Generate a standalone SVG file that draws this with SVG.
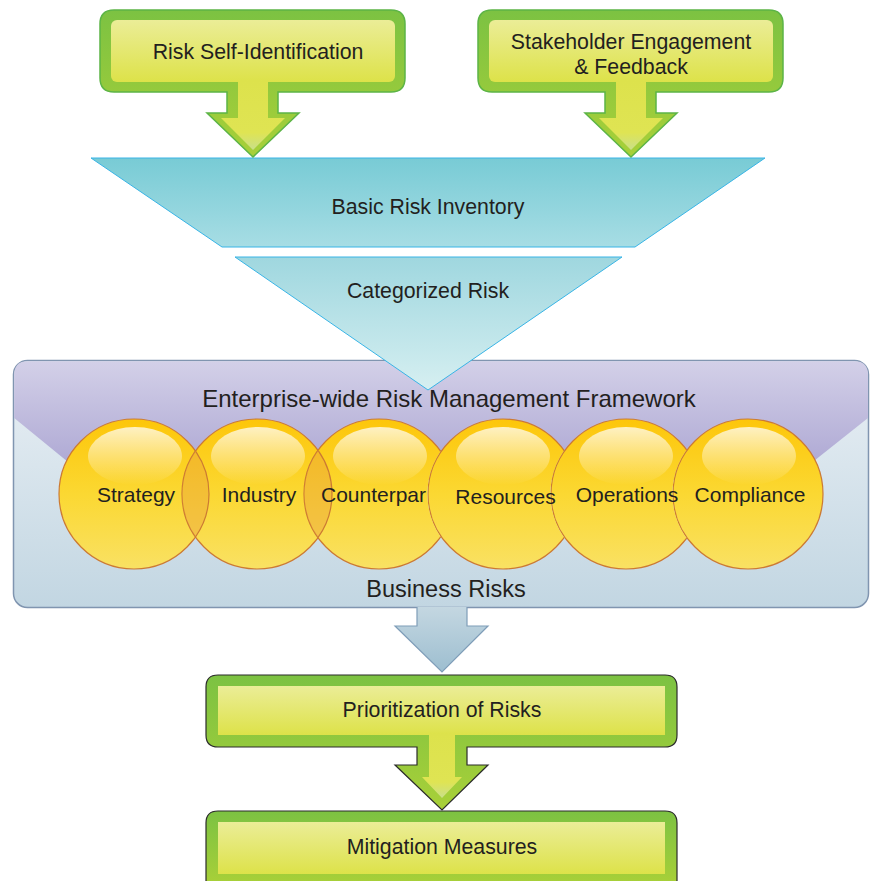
<svg xmlns="http://www.w3.org/2000/svg" width="870" height="881" viewBox="0 0 870 881">
<defs>
<linearGradient id="gOuter" x1="0" y1="0" x2="0" y2="1"><stop offset="0" stop-color="#7cc242"/><stop offset="1" stop-color="#a9d038"/></linearGradient>
<linearGradient id="gInner" x1="0" y1="0" x2="0" y2="1"><stop offset="0" stop-color="#ebed97"/><stop offset="1" stop-color="#dde249"/></linearGradient>
<linearGradient id="gTip" x1="0" y1="0" x2="0" y2="1"><stop offset="0" stop-color="#dde24c"/><stop offset="0.75" stop-color="#dfe453"/><stop offset="1" stop-color="#c9df8a"/></linearGradient>
<linearGradient id="gTrap" x1="0" y1="0" x2="0" y2="1"><stop offset="0" stop-color="#78cbd5"/><stop offset="1" stop-color="#a7dde4"/></linearGradient>
<linearGradient id="gTri" x1="0" y1="0" x2="0" y2="1"><stop offset="0" stop-color="#9fd7df"/><stop offset="1" stop-color="#d6eff1"/></linearGradient>
<linearGradient id="gPanel" x1="0" y1="0" x2="0" y2="1"><stop offset="0" stop-color="#eaf0f5"/><stop offset="1" stop-color="#c2d6e2"/></linearGradient>
<linearGradient id="gPurple" x1="0" y1="0" x2="0" y2="1"><stop offset="0" stop-color="#d3d0e8"/><stop offset="1" stop-color="#a9a3d1"/></linearGradient>
<linearGradient id="gCircle" x1="0" y1="0" x2="0" y2="1"><stop offset="0" stop-color="#fdc60a"/><stop offset="0.5" stop-color="#fbd832"/><stop offset="1" stop-color="#f9e163"/></linearGradient>
<linearGradient id="gHi" x1="0" y1="0" x2="0" y2="1"><stop offset="0" stop-color="#ffffff" stop-opacity="0.75"/><stop offset="1" stop-color="#ffffff" stop-opacity="0"/></linearGradient>
<linearGradient id="gBlue" x1="0" y1="0" x2="0" y2="1"><stop offset="0" stop-color="#c4d7e1"/><stop offset="1" stop-color="#9dbed0"/></linearGradient>
<clipPath id="cutCompliance"><path clip-rule="evenodd" d="M540,400 H760 V590 H540 Z M823.6,494 A75.6,75.6 0 1,0 672.4,494 A75.6,75.6 0 1,0 823.6,494 Z"/></clipPath>
<clipPath id="cutOperations"><path clip-rule="evenodd" d="M420,400 H640 V590 H420 Z M701.6,494 A75.6,75.6 0 1,0 550.4,494 A75.6,75.6 0 1,0 701.6,494 Z"/></clipPath>
<clipPath id="cutResources"><path clip-rule="evenodd" d="M290,400 H520 V590 H290 Z M578.6,494 A75.6,75.6 0 1,0 427.4,494 A75.6,75.6 0 1,0 578.6,494 Z"/></clipPath>
<style>
.t{font-family:"Liberation Sans",Arial,sans-serif;fill:#231f20;text-anchor:middle}
.outer{fill:url(#gOuter);stroke:#5cb446;stroke-width:1.5}
.outerD{fill:url(#gOuter);stroke:#2b2b2b;stroke-width:1.2}
.inner{fill:url(#gInner)}
.circ{fill:url(#gCircle);stroke:#cc7a33;stroke-width:1.2}
.arc{fill:none;stroke:#cc7a33;stroke-width:1.2}
.hi{fill:url(#gHi)}
.lens{fill:#e99a3c;fill-opacity:0.4}
.lbl{font-size:21px}
.box{font-size:21.3px}
</style>
</defs>

<g id="framework">
<rect x="13.5" y="360.5" width="855" height="247" rx="14" fill="url(#gPanel)" stroke="#8095b0" stroke-width="1.5"/>
<path d="M27.5,361.2 H854.5 Q868,361.2 868,375 V418 L790,480 H90 L14.2,418 V375 Q14.2,361.2 27.5,361.2 Z" fill="url(#gPurple)"/>
<text class="t" x="449" y="406.5" font-size="24">Enterprise-wide Risk Management Framework</text>
<text class="t" x="446" y="597" font-size="23.5">Business Risks</text>
</g>

<g id="basic-risk-inventory">
<polygon points="91,158 765,158 635,247 222,247" fill="url(#gTrap)" stroke="#38b4e6" stroke-width="1"/>
<text class="t box" x="428" y="213.5">Basic Risk Inventory</text>
</g>

<g id="categorized-risk">
<polygon points="235,257 622,257 428,390" fill="url(#gTri)" stroke="#38b4e6" stroke-width="1"/>
<text class="t box" x="428" y="297.5">Categorized Risk</text>
</g>

<g id="risk-self-identification">
<path class="outer" d="M114,10 H391 Q405,10 405,24 V78 Q405,92 391,92 H278 V113 H299 L253,157 L207,113 H227 V92 H114 Q100,92 100,78 V24 Q100,10 114,10 Z"/>
<rect class="inner" x="111" y="20" width="284" height="62" rx="6"/>
<path d="M238,80 H268 V118 H285 L253,150 L221,118 H238 Z" fill="url(#gTip)"/>
<text class="t box" x="258" y="58.5">Risk Self-Identification</text>
</g>

<g id="stakeholder-engagement">
<path class="outer" d="M492,10 H769 Q783,10 783,24 V78 Q783,92 769,92 H656 V113 H677 L631,157 L585,113 H605 V92 H492 Q478,92 478,78 V24 Q478,10 492,10 Z"/>
<rect class="inner" x="489" y="20" width="284" height="62" rx="6"/>
<path d="M616,80 H646 V118 H663 L631,150 L599,118 H616 Z" fill="url(#gTip)"/>
<text class="t box" x="631" y="48.5">Stakeholder Engagement</text>
<text class="t box" x="631" y="73.5">&amp; Feedback</text>
</g>

<g id="compliance">
<circle class="circ" cx="748" cy="494" r="75"/>
<ellipse class="hi" cx="749" cy="456" rx="47" ry="29"/>
<text class="t lbl" x="750" y="501.5">Compliance</text>
</g>
<g id="operations">
<g clip-path="url(#cutCompliance)">
<circle class="circ" cx="626" cy="494" r="75"/>
<ellipse class="hi" cx="626" cy="456" rx="47" ry="29"/>
</g>
<text class="t lbl" x="627" y="501.5">Operations</text>
</g>
<g id="resources">
<g clip-path="url(#cutOperations)">
<circle class="circ" cx="503" cy="494" r="75"/>
<ellipse class="hi" cx="503" cy="456" rx="47" ry="29"/>
</g>
<text class="t lbl" x="505.5" y="503.5">Resources</text>
</g>
<g id="strategy">
<circle class="circ" cx="134" cy="494" r="75"/>
<ellipse class="hi" cx="135" cy="456" rx="47" ry="29"/>
<text class="t lbl" x="136" y="501.5">Strategy</text>
</g>
<g id="industry">
<circle class="circ" cx="257" cy="494" r="75"/>
<ellipse class="hi" cx="258" cy="456" rx="47" ry="29"/>
<path class="lens" d="M195.5,451.1 A75,75 0 0,1 195.5,536.9 A75,75 0 0,1 195.5,451.1 Z"/>
<circle class="arc" cx="134" cy="494" r="75" stroke-dasharray="45.7 379.9 45.7 10"/>
<text class="t lbl" x="259" y="501.5">Industry</text>
</g>
<g id="counterparty">
<g clip-path="url(#cutResources)">
<circle class="circ" cx="379" cy="494" r="75"/>
<ellipse class="hi" cx="380" cy="456" rx="47" ry="29"/>
</g>
<path class="lens" d="M318,450.4 A75,75 0 0,1 318,537.6 A75,75 0 0,1 318,450.4 Z"/>
<circle class="arc" cx="257" cy="494" r="75" stroke-dasharray="46.6 378.1 46.6 10"/>
<text class="t lbl" x="373.5" y="501.5">Counterpar</text>
</g>

<g id="connectors">
<path d="M417,607 V626 H395 L442,672 L488,626 H467 V607" fill="url(#gBlue)" stroke="#7f9db8" stroke-width="1.2"/>
</g>

<g id="prioritization">
<path class="outerD" d="M218,675 H665 Q677,675 677,687 V735 Q677,747 665,747 H467 V765 H488 L442,810 L395,765 H417 V747 H218 Q206,747 206,735 V687 Q206,675 218,675 Z"/>
<rect class="inner" x="218" y="686" width="447" height="49"/>
<path d="M429,734 H455 V777 H462 L442,798 L422,777 H429 Z" fill="url(#gTip)"/>
<text class="t box" x="442" y="716.5">Prioritization of Risks</text>
</g>

<g id="mitigation">
<path class="outerD" d="M218,811 H665 Q677,811 677,823 V885 H206 V823 Q206,811 218,811 Z"/>
<rect class="inner" x="218" y="822" width="447" height="52"/>
<text class="t box" x="442" y="853.5">Mitigation Measures</text>
</g>
</svg>
